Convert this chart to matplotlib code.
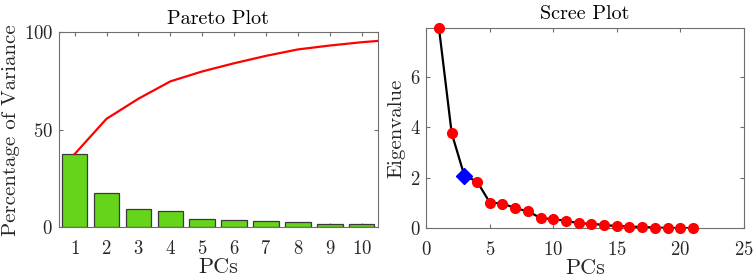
import matplotlib
matplotlib.use("Agg")
import matplotlib.pyplot as plt

# values
pcs = [1, 2, 3, 4, 5, 6, 7, 8, 9, 10]
pct_var = [37.6, 17.6, 9.6, 8.4, 4.4, 3.9, 3.4, 2.9, 1.9, 1.5]
cum_pcs = [1, 2, 3, 4, 5, 6, 7, 8, 9, 10, 11]
cum_var = [37.6, 55.7, 66.0, 74.9, 80.0, 84.2, 88.0, 91.3, 93.3, 95.0, 96.3]

scree_pcs = list(range(1, 22))
eigvals = [7.91, 3.76, 2.08, 1.85, 1.02, 0.98, 0.80, 0.67, 0.41, 0.36, 0.30,
           0.20, 0.18, 0.13, 0.09, 0.07, 0.05, 0.03, 0.01, 0.01, 0.0]
elbow_pc = 3
elbow_val = 2.08

plt.rcParams["font.family"] = "serif"
plt.rcParams["font.serif"] = ["cmr10", "DejaVu Serif"]
plt.rcParams["mathtext.fontset"] = "cm"
plt.rcParams["axes.formatter.use_mathtext"] = True

AX_COL = "#6e6e6e"
TXT_COL = "#262626"

fig = plt.figure(figsize=(7.54, 2.8), dpi=100)
ax1 = fig.add_axes([0.0778, 0.188, 0.423, 0.696])
ax2 = fig.add_axes([0.5654, 0.1846, 0.421, 0.714])

for ax in (ax1, ax2):
    for s in ax.spines.values():
        s.set_color(AX_COL)
        s.set_linewidth(0.8)
    ax.tick_params(direction="in", top=True, right=True, color=AX_COL,
                   labelcolor=TXT_COL, labelsize=13.5, length=3, width=0.8)
    ax.tick_params(axis="x", pad=9)
    ax.tick_params(axis="y", pad=4)

# Pareto plot
ax1.bar(pcs, pct_var, width=0.8, color="#66d41a", edgecolor="#3a3a3a", linewidth=0.9, zorder=2)
ax1.plot(cum_pcs, cum_var, color="#ff0000", lw=1.6, zorder=3)
ax1.set_xlim(0.5, 10.5)
ax1.set_ylim(0, 100)
ax1.set_xticks(pcs)
ax1.set_yticks([0, 50, 100])
ax1.set_title("Pareto Plot", fontsize=14.5, color="black", pad=6)
ax1.set_xlabel("PCs", fontsize=16, color=TXT_COL, labelpad=0)
ax1.set_ylabel("Percentage of Variance", fontsize=15, color=TXT_COL, labelpad=3)

# Scree plot
ax2.plot(scree_pcs, eigvals, color="black", lw=1.6, zorder=2)
ax2.plot(scree_pcs, eigvals, "o", color="#ff0000", ms=7, zorder=3, clip_on=False)
ax2.plot([elbow_pc], [elbow_val], "D", color="#0000ff", ms=8.5, zorder=4)
ax2.set_xlim(0, 25)
ax2.set_ylim(0, 7.91)
ax2.set_xticks([0, 5, 10, 15, 20, 25])
ax2.set_yticks([0, 2, 4, 6])
ax2.set_title("Scree Plot", fontsize=14.5, color="black", pad=7)
ax2.set_xlabel("PCs", fontsize=16, color=TXT_COL, labelpad=0)
ax2.set_ylabel("Eigenvalue", fontsize=15, color=TXT_COL, labelpad=3)

fig.savefig("out.png", dpi=100)
